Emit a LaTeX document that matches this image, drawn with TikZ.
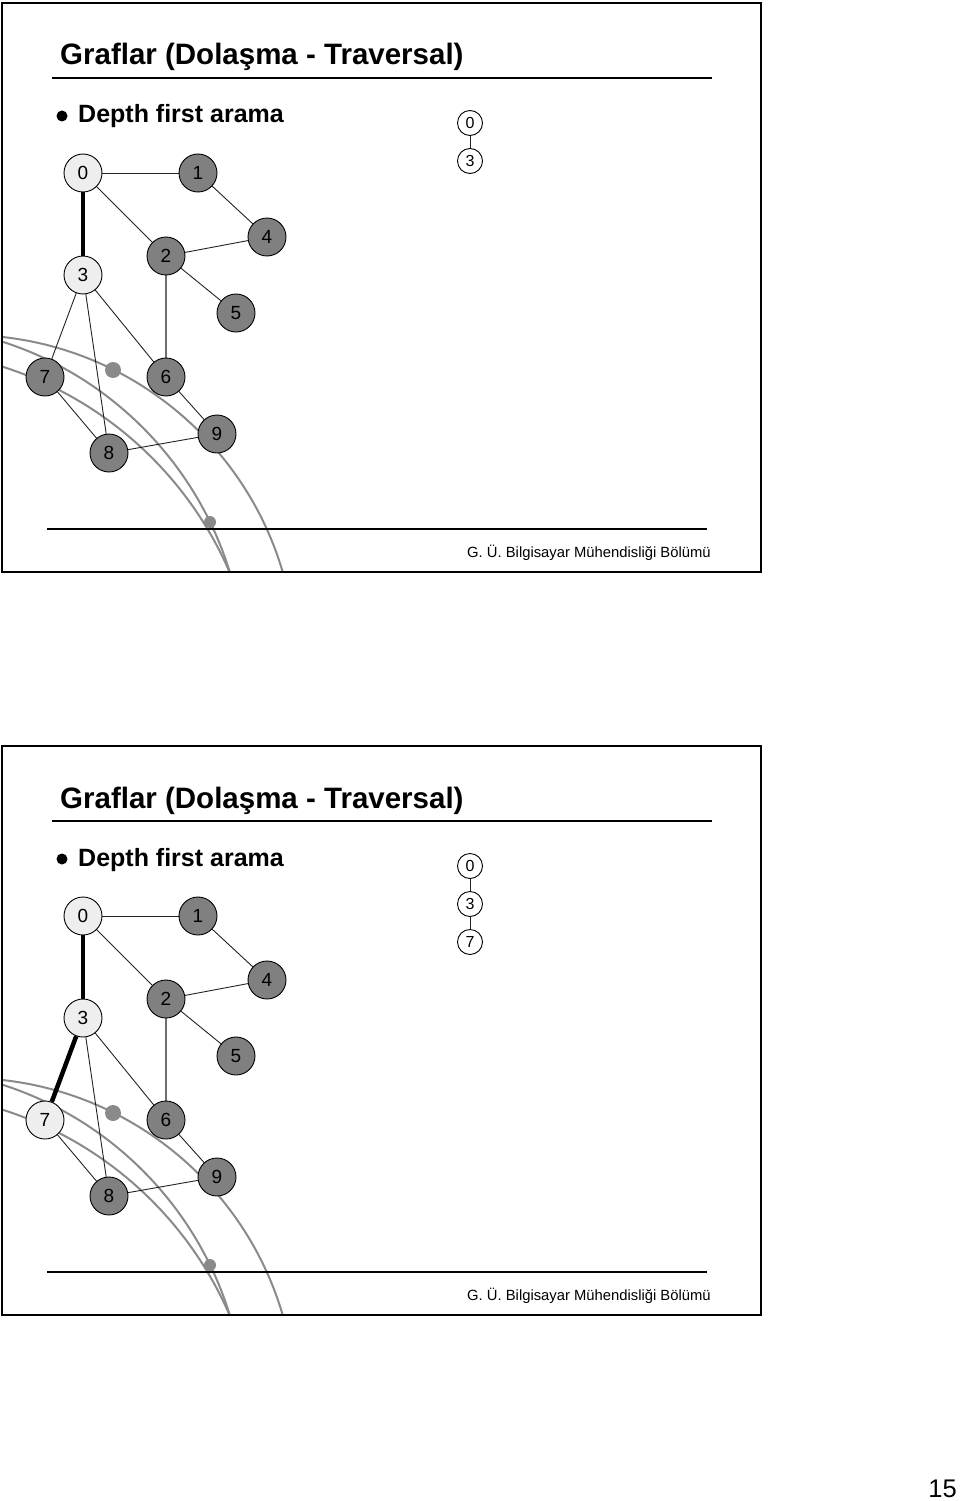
\documentclass[tikz,border=0pt]{standalone}
\usepackage{fontspec}
\setmainfont{Liberation Sans}
\pgfdeclarelayer{background}
\pgfsetlayers{background,main}
\definecolor{graydk}{HTML}{808080}
\definecolor{graylt}{HTML}{EEEEEE}
\definecolor{arcgray}{HTML}{8A8A8A}
\definecolor{edgec}{HTML}{222222}
\definecolor{edgegray}{HTML}{6E6E6E}
\tikzset{
  gnode/.style={circle, draw=black, line width=0.9pt, minimum size=38pt, inner sep=0pt, font=\fontsize{19}{19}\selectfont},
  dk/.style={gnode, fill=graydk},
  lt/.style={gnode, fill=graylt},
  snode/.style={circle, draw=black, line width=0.9pt, fill=white, minimum size=25pt, inner sep=0pt, font=\fontsize{16}{16}\selectfont},
  gedge/.style={line width=0.9pt, draw=edgec},
  gedgegray/.style={line width=1.5pt, draw=edgegray},
  treeedge/.style={line width=4.5pt, draw=black},
  arcline/.style={line width=2pt, draw=arcgray},
  slideframe/.style={line width=2.5pt, draw=black},
  rulestyle/.style={line width=2pt, draw=black},
  titletext/.style={anchor=base west, inner sep=0pt, font=\fontsize{29.5}{30}\selectfont\bfseries},
  bullettext/.style={anchor=base west, inner sep=0pt, font=\fontsize{25}{26}\selectfont\bfseries},
  foottext/.style={anchor=base west, inner sep=0pt, font=\fontsize{14.8}{15}\selectfont},
}
% #1 prefix, #2 vertical offset, #3 style of node 7, #4 style of edge 3-7
\newcommand\mkslide[4]{%
\begin{scope}[shift={(0,#2)}]
  \draw[slideframe] (2,3) rectangle (761,572);
  \node[titletext] (#1title) at (60,65) {Graflar (Dolaşma - Traversal)};
  \coordinate (#1tl) at (52,78);
  \coordinate (#1tr) at (712,78);
  \draw[rulestyle] (#1tl) -- (#1tr);
  \node[circle, fill=black, inner sep=0pt, minimum size=11pt] (#1bul) at (62,116) {};
  \node[bullettext] (#1btext) at (78,123) {Depth first arama};
  \coordinate (#1fl) at (47,529);
  \coordinate (#1fr) at (707,529);
  \draw[rulestyle] (#1fl) -- (#1fr);
  \node[foottext] (#1foot) at (467,557) {G. Ü. Bilgisayar Mühendisliği Bölümü};
  % graph nodes
  \node[lt] (#1n0) at (83,173) {0};
  \node[dk] (#1n1) at (198,173) {1};
  \node[dk] (#1n4) at (267,237) {4};
  \node[dk] (#1n2) at (166,256) {2};
  \node[lt] (#1n3) at (83,275) {3};
  \node[dk] (#1n5) at (236,313) {5};
  \node[#3] (#1n7) at (45,377) {7};
  \node[dk] (#1n6) at (166,377) {6};
  \node[dk] (#1n9) at (217,434) {9};
  \node[dk] (#1n8) at (109,453) {8};
  % stack
  \node[snode] (#1s0) at (470,123) {0};
  \node[snode] (#1s3) at (470,161) {3};
  \begin{pgfonlayer}{background}
    \begin{scope}
      \clip (3,4) rectangle (760,571);
      \draw[arcline] (-34,665) circle[radius=330];
      \draw[arcline] (-104.7,674.8) circle[radius=349.8];
      \draw[arcline] (-108.8,718) circle[radius=368.4];
      \fill[arcgray] (113,370) circle[radius=8];
      \fill[arcgray] (210,522) circle[radius=6];
    \end{scope}
    \draw[treeedge] (#1n0) -- (#1n3);
    \draw[gedge] (#1n0) -- (#1n1);
    \draw[gedge] (#1n0) -- (#1n2);
    \draw[gedge] (#1n1) -- (#1n4);
    \draw[gedge] (#1n2) -- (#1n4);
    \draw[gedge] (#1n2) -- (#1n5);
    \draw[gedgegray] (#1n2) -- (#1n6);
    \draw[#4] (#1n3) -- (#1n7);
    \draw[gedge] (#1n3) -- (#1n8);
    \draw[gedge] (#1n3) -- (#1n6);
    \draw[gedge] (#1n7) -- (#1n8);
    \draw[gedge] (#1n8) -- (#1n9);
    \draw[gedge] (#1n6) -- (#1n9);
    \draw[gedge] (#1s0) -- (#1s3);
  \end{pgfonlayer}
\end{scope}}
\begin{document}
\begin{tikzpicture}[x=1pt, y=-1pt]
  \useasboundingbox (0,0) rectangle (960,1501);
  \mkslide{a}{0}{dk}{gedge}
  \mkslide{b}{743}{lt}{treeedge}
  \begin{scope}[shift={(0,743)}]
    \node[snode] (bs7) at (470,199) {7};
    \draw[gedge] (bs3) -- (bs7);
  \end{scope}
  \node[anchor=base east, inner sep=0pt, font=\fontsize{25.5}{26}\selectfont] (pg) at (957,1497) {15};
\end{tikzpicture}
\end{document}
